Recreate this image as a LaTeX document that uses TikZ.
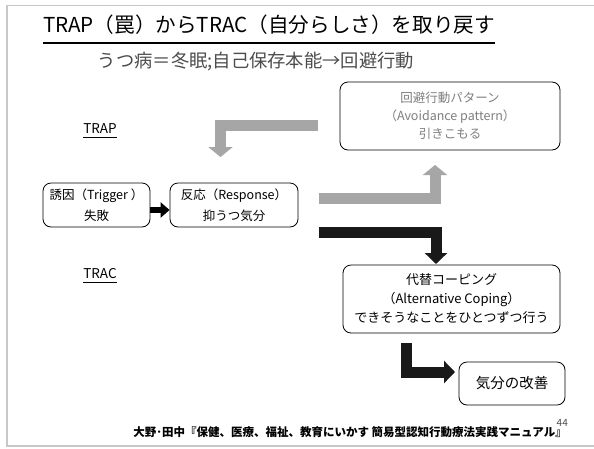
\documentclass[tikz,border=0pt]{standalone}
\usepackage{fontspec}
\setmainfont{Noto Sans CJK JP}
\usetikzlibrary{arrows.meta}
\definecolor{framegray}{HTML}{C8C8C8}
\definecolor{arrgray}{HTML}{A6A6A6}
\definecolor{txtgray}{HTML}{7F7F7F}
\definecolor{subgray}{HTML}{4D4D4D}
\tikzset{
  box/.style={draw=black, line width=0.8pt, rounded corners=8pt, align=center, inner sep=0pt},
  fatgray/.style={draw=arrgray, line width=11pt, line join=miter, line cap=butt,
    -{Triangle[length=10pt,width=24pt]}},
  fatblack/.style={draw=black!90, line width=11pt, line join=miter, line cap=butt,
    -{Triangle[length=11pt,width=22pt]}},
  lbl/.style={inner sep=0pt, anchor=base}
}
\begin{document}
\begin{tikzpicture}[x=1pt,y=-1pt]
\useasboundingbox (0,0) rectangle (594,448);
\fill[white] (0,0) rectangle (594,448);
\draw[framegray, line width=1.5pt] (7,5.5) rectangle (600,446);

% title
\node[lbl, font=\fontsize{20.6}{24}\selectfont] (title) at (269,32) {TRAP（罠）からTRAC（自分らしさ）を取り戻す};
\draw[line width=1.2pt] (title.west |- 0,43) -- (title.east |- 0,43);
\node[lbl, text=subgray, font=\fontsize{18.3}{22}\selectfont] (sub) at (256,67) {うつ病＝冬眠;自己保存本能→回避行動};

% labels
\node[lbl, font=\fontsize{13.5}{16}\selectfont] (trap) at (100,133) {TRAP};
\draw[line width=0.8pt] (trap.west |- 0,137) -- (trap.east |- 0,137);
\node[lbl, font=\fontsize{13.5}{16}\selectfont] (trac) at (100,278) {TRAC};
\draw[line width=0.8pt] (trac.west |- 0,282) -- (trac.east |- 0,282);

% boxes
\node[box, minimum width=220pt, minimum height=68pt, text=txtgray,
  font=\fontsize{12.5}{18}\selectfont] (avoid) at (450,116)
  {回避行動パターン\\（Avoidance pattern）\\引きこもる};
\node[box, minimum width=107pt, minimum height=44pt,
  font=\fontsize{12.5}{21}\selectfont] (trig) at (96.5,205)
  {誘因（Trigger ）\\失敗};
\node[box, minimum width=128pt, minimum height=44pt,
  font=\fontsize{12.5}{21}\selectfont] (resp) at (234,205)
  {反応（Response）\\抑うつ気分};
\node[box, minimum width=217pt, minimum height=68pt,
  font=\fontsize{13}{19}\selectfont] (cope) at (451.5,299)
  {代替コーピング\\（Alternative Coping）\\できそうなことをひとつずつ行う};
\node[box, minimum width=106pt, minimum height=43pt,
  font=\fontsize{14.5}{18}\selectfont] (mood) at (512,383.5) {気分の改善};

% arrows
\coordinate (g1s) at (318,125.5);
\coordinate (g1t) at (220.5,157);
\draw[fatgray] (g1s) -- (g1t |- g1s) -- (g1t);

\coordinate (g2s) at (319,198);
\coordinate (g2t) at (435,165);
\draw[fatgray] (g2s) -- (g2t |- g2s) -- (g2t);

\coordinate (b1s) at (319,232);
\coordinate (b1t) at (436,264);
\draw[fatblack] (b1s) -- (b1t |- b1s) -- (b1t);

\coordinate (b2s) at (406.5,343);
\coordinate (b2t) at (455,372);
\draw[fatblack] (b2s) -- (b2s |- b2t) -- (b2t);

\draw[draw=black, line width=6pt, -{Triangle[length=9pt,width=15pt]}]
  (trig.east |- 0,210) -- (resp.west |- 0,210);

% footer
\node[lbl, anchor=base east, text=subgray, font=\fontsize{10}{12}\selectfont] (pg) at (568,426) {44};
\node[lbl, anchor=base east, font=\bfseries\fontsize{11.5}{13}\selectfont] (foot) at (567,436)
  {大野･田中『保健、医療、福祉、教育にいかす 簡易型認知行動療法実践マニュアル』};
\end{tikzpicture}
\end{document}
